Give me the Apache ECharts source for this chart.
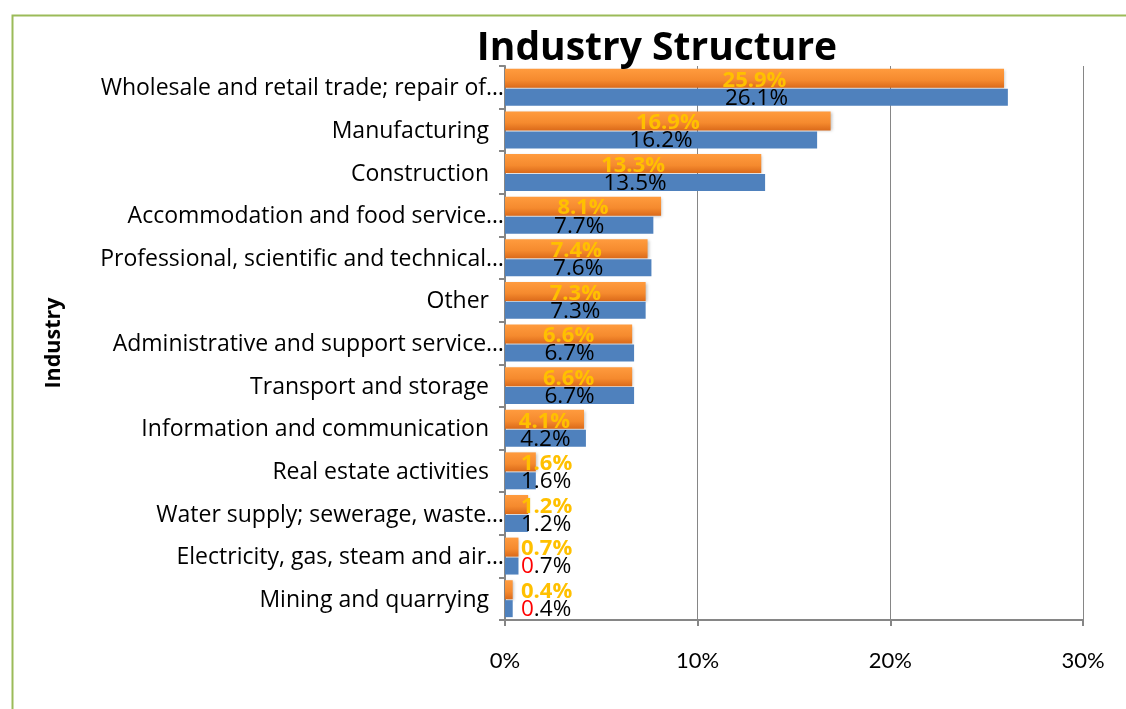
<!DOCTYPE html>
<html>
<head>
<meta charset="utf-8">
<script src="https://cdn.jsdelivr.net/npm/echarts@6/dist/echarts.min.js"></script>
<style>
html,body{margin:0;padding:0;background:#fff;}
#chart{width:1126px;height:709px;}
</style>
</head>
<body>
<div id="chart"></div>
<script>
const categories = [
  "Wholesale and retail trade; repair of…",
  "Manufacturing",
  "Construction",
  "Accommodation and food service…",
  "Professional, scientific and technical…",
  "Other",
  "Administrative and support service…",
  "Transport and storage",
  "Information and communication",
  "Real estate activities",
  "Water supply; sewerage, waste…",
  "Electricity, gas, steam and air…",
  "Mining and quarrying"
];
const orangeValues = [25.9, 16.9, 13.3, 8.1, 7.4, 7.3, 6.6, 6.6, 4.1, 1.6, 1.2, 0.7, 0.4];
const blueValues   = [26.1, 16.2, 13.5, 7.7, 7.6, 7.3, 6.7, 6.7, 4.2, 1.6, 1.2, 0.7, 0.4];
const xTicks = [0, 10, 20, 30];

const FONT = '"Open Sans"';
const SMALL = 2;

function items(values) {
  return values.map(v => {
    const it = { value: v };
    if (v < SMALL) {
      it.label = { position: 'insideLeft', distance: 16 };
    }
    return it;
  });
}

const chart = echarts.init(document.getElementById('chart'));
chart.setOption({
  animation: false,
  backgroundColor: '#ffffff',
  title: {
    text: 'Industry Structure',
    left: 652, top: 24, textAlign: 'center',
    textStyle: { fontFamily: FONT, fontWeight: 'bold', fontSize: 39, color: '#000' }
  },
  graphic: [{
    type: 'rect', left: 10, top: 13,
    shape: { width: 1130, height: 720 },
    style: { fill: 'none', stroke: '#9BBB59', lineWidth: 2 },
    z: -1
  }],
  grid: { left: 505, right: 43, top: 66, bottom: 89, containLabel: false },
  xAxis: {
    type: 'value', min: 0, max: 30, interval: 10,
    axisLine: { show: true, lineStyle: { color: '#868686', width: 2 } },
    axisTick: { show: true, length: 6, lineStyle: { color: '#868686', width: 2 } },
    splitLine: { show: true, lineStyle: { color: '#868686', width: 1 } },
    axisLabel: { margin: 30, fontFamily: 'Lato', fontSize: 22, color: '#000',
      formatter: v => xTicks.includes(v) ? v + '%' : '' }
  },
  yAxis: {
    type: 'category', data: categories, inverse: true,
    name: 'Industry', nameLocation: 'middle', nameGap: 440, nameRotate: 90,
    nameTextStyle: { fontFamily: FONT, fontWeight: 'bold', fontSize: 21.5, color: '#000' },
    axisLine: { show: true, lineStyle: { color: '#868686', width: 2 } },
    axisTick: { show: true, length: 6, lineStyle: { color: '#868686', width: 2 } },
    axisLabel: {
      margin: 1, fontFamily: FONT, fontSize: 23, color: '#000',
      formatter: v => v.endsWith('…') ? '{t|' + v + '}' : '{p|' + v + '}',
      rich: {
        t: { fontFamily: FONT, fontSize: 23, color: '#000', padding: [3, 0, 0, 0] },
        p: { fontFamily: FONT, fontSize: 23, color: '#000', padding: [3, 15, 0, 0] }
      }
    }
  },
  series: [
    {
      type: 'bar', name: 'Orange', data: items(orangeValues),
      barWidth: 19, barGap: '5%', barCategoryGap: '10%',
      itemStyle: {
        color: new echarts.graphic.LinearGradient(0, 0, 0, 1, [
          { offset: 0, color: '#FF9B3E' }, { offset: 0.6, color: '#F58A2E' }, { offset: 1, color: '#DB6A1A' }
        ]),
        shadowBlur: 3, shadowColor: 'rgba(0,0,0,0.25)', shadowOffsetX: 1, shadowOffsetY: 1
      },
      label: {
        show: true, position: 'inside', offset: [0, 2],
        fontFamily: FONT, fontWeight: 'bold', fontSize: 22, color: '#FFC000',
        formatter: p => p.value.toFixed(1) + '%'
      }
    },
    {
      type: 'bar', name: 'Blue', data: items(blueValues),
      barWidth: 17,
      itemStyle: { color: '#4F81BD' },
      label: {
        show: true, position: 'inside', offset: [0, 1],
        fontFamily: FONT, fontSize: 22.5, color: '#000',
        formatter: p => p.value < 1 ? '{r|0}' + p.value.toFixed(1).slice(1) + '%' : p.value.toFixed(1) + '%',
        rich: { r: { fontFamily: FONT, fontSize: 22.5, color: '#FF0000' } }
      }
    }
  ]
});
</script>
</body>
</html>
